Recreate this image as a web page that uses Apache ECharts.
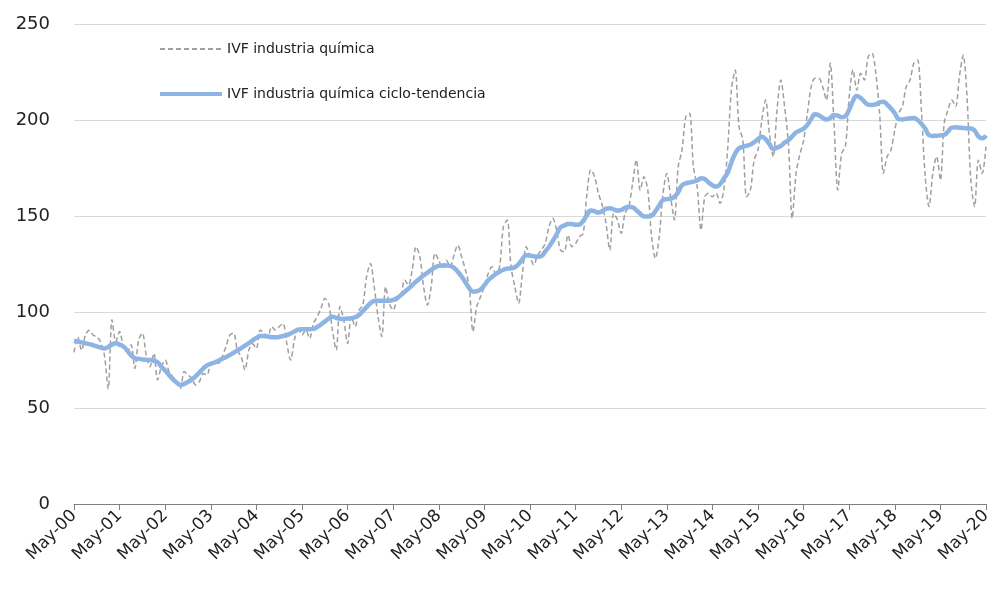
<!DOCTYPE html>
<html lang="es">
<head>
<meta charset="UTF-8">
<title>IVF industria química</title>
<script src="https://cdn.jsdelivr.net/npm/echarts@6/dist/echarts.min.js"></script>
<style>
  html, body { margin: 0; padding: 0; background: #fff; }
  #chart { width: 992px; height: 591px; }
</style>
</head>
<body>
<div id="chart"></div>
<script>
// monthly series, May-2000 .. May-2020
const monthNames = ['May', 'Jun', 'Jul', 'Aug', 'Sep', 'Oct', 'Nov', 'Dec', 'Jan', 'Feb', 'Mar', 'Apr'];
const firstYear = 2000;
const nMonths = 241;

const yTicks = [0, 50, 100, 150, 200, 250];

// IVF industria química (raw index)
const ivf = [
  79, 87, 80, 88, 90.5, 88, 87, 84.5, 77.6, 60, 96, 84.5,
  89.8, 82, 79.4, 83, 70.6, 85.4, 89, 77.6, 71.5, 78.5, 64.6, 71.5,
  75, 69, 66.3, 63.7, 60.2, 69, 67.2, 65.5, 62, 63.7, 68, 67.2,
  73.3, 74, 73.3, 76.7, 82, 88, 89, 80, 76.7, 69.8, 80, 83.5,
  81, 90.6, 89, 87.2, 92.4, 90.6, 92.4, 94, 83.6, 75, 85.4, 92.4,
  88, 90.6, 86.3, 94, 97.6, 101.9, 107, 104.5, 90.6, 80.2, 102.8, 95.8,
  83.6, 97.6, 92.4, 101, 103.6, 118.4, 125.3, 113.2, 97.6, 87.2, 113.2, 104.5,
  101, 106.2, 108, 116.7, 114, 121.9, 134, 128.9, 113.2, 103.6, 113.2, 130.6,
  127, 122.8, 127, 123.6, 129.7, 134.8, 128.8, 121.9, 113.2, 89.8, 102.8, 108,
  113.2, 120, 123.6, 120, 123.6, 144.4, 147.9, 123.6, 113.2, 104.5, 120, 134,
  128.8, 124.5, 129.7, 132.3, 135.7, 144.4, 148.8, 142.7, 132.3, 131.4, 140.1, 134,
  135.7, 139.2, 141, 161.8, 174, 170.5, 161.8, 155.7, 146.2, 132.3, 151.4, 148,
  141, 151.4, 154.9, 167, 179.2, 163.5, 170.5, 163.5, 139.2, 127.9, 139.2, 161.8,
  172.2, 160, 147.9, 175.7, 184.4, 201.8, 203.5, 175.7, 165.3, 142.7, 160, 161.8,
  160, 161.8, 156.6, 163.5, 184.4, 215.6, 226, 196.5, 189.6, 160, 163.5, 179.2,
  184.4, 200, 210.4, 193, 180.9, 205.2, 220.8, 207, 187.8, 148.8, 172, 182,
  189.3, 203.5, 217.4, 221.7, 221.7, 217.4, 210.4, 229.5, 198.3, 163.5, 182.6, 186.1,
  212.2, 226.1, 215.6, 224.3, 220.8, 232.9, 234.7, 224.3, 203.5, 172.2, 181, 184.4,
  194.8, 203.5, 207, 217.4, 220.8, 229.5, 231.2, 205.2, 170.5, 154.9, 172.2, 181,
  168.7, 198.3, 205.2, 210.4, 207, 222.6, 233.8, 212.2, 168.7, 154.9, 179.1, 172.2,
  186.1
];

// IVF industria química ciclo-tendencia
const tendencia = [
  85, 84.6, 84.2, 83.7, 83.3, 82.7, 82.1, 81.5, 81, 81.8, 83, 83.7,
  83, 82, 80, 77.5, 76, 75.6, 75.3, 75.1, 75, 74.6, 73.8, 71.5,
  69.5, 67.2, 65, 63.3, 62, 62.6, 63.6, 64.8, 66.5, 68.5, 70.5, 72.2,
  73, 73.7, 74.6, 75.6, 76.5, 77.6, 78.8, 80, 81.2, 82.5, 83.8, 85.2,
  86.5, 87.5, 87.5, 87.2, 86.9, 86.8, 87, 87.5, 88, 88.8, 89.8, 90.8,
  91, 91, 91, 91.2, 92.2, 93.5, 95, 96.5, 97.5, 97, 96.5, 96.4,
  96.6, 96.8, 97.3, 98.5, 100.5, 102.5, 104.5, 105.7, 105.9, 105.9, 105.9, 105.9,
  106.3, 107.2, 108.8, 110.5, 112.2, 114, 115.8, 117.5, 119, 120.5, 122, 123.2,
  124, 124.2, 124.2, 124, 123, 121, 118.5, 115.5, 112.5, 110.6, 110.8, 111.7,
  114, 116.5, 118.2, 119.8, 121, 122, 122.6, 122.8, 123.3, 125, 127.5, 129.6,
  129.4, 129, 128.8, 129.2, 131.5, 134, 137, 140.5, 144, 145, 145.8, 145.8,
  145.4, 145.6, 147.5, 150.5, 152.8, 152.5, 151.8, 152.5, 153.8, 154, 153.5, 152.8,
  153.2, 154.2, 154.8, 154.5, 153, 151.2, 149.8, 149.7, 150.2, 152.5, 155.5, 158.3,
  158.8, 159.1, 160, 162.5, 166, 167, 167.5, 167.9, 168.5, 169.6, 169.2, 167.5,
  166, 165.3, 166.5, 169.5, 172.5, 178, 182.5, 185.3, 186, 186.6, 187.2, 188.5,
  190, 191.3, 190, 187.5, 185, 185.6, 186.5, 188.2, 189.5, 191.5, 193.5, 194.5,
  195.5, 197.5, 200.5, 203, 202.5, 201.2, 200.3, 201, 202.6, 202.3, 201.4, 202,
  205.5, 210, 212.5, 211.5, 209.5, 208, 207.8, 208.2, 209.2, 209.5, 208, 206,
  203.5, 200.5, 200.3, 200.6, 200.9, 201, 200, 198, 195.5, 192.2, 191.7, 191.8,
  192, 192.3, 194, 196, 196.2, 196, 195.8, 195.7, 195.6, 194.5, 191.5, 190.5,
  192
];

// category labels "May-00", "Jun-00", ...
const months = [];
for (let i = 0; i < nMonths; i++) {
  const yr = firstYear + Math.floor((i + 4) / 12);
  months.push(monthNames[i % 12] + '-' + String(yr % 100).padStart(2, '0'));
}

const chart = echarts.init(document.getElementById('chart'));

chart.setOption({
  animation: false,
  textStyle: { fontFamily: 'DejaVu Sans' },
  grid: {
    left: 74, right: 6, top: 24, bottom: 87,
    containLabel: false,
    outerBoundsMode: 'none'
  },
  legend: {
    orient: 'vertical',
    left: 153,
    top: 37,
    itemWidth: 62,
    itemHeight: 12,
    itemGap: 31,
    itemStyle: { opacity: 0 },
    textStyle: { fontSize: 14, color: '#222', fontFamily: 'DejaVu Sans' },
    data: [
      { name: 'IVF industria química' },
      { name: 'IVF industria química ciclo-tendencia', lineStyle: { width: 4 } }
    ]
  },
  xAxis: {
    type: 'category',
    data: months,
    boundaryGap: false,
    axisLine: { lineStyle: { color: '#808080', width: 1 } },
    axisTick: { interval: 11, length: 6, lineStyle: { color: '#808080' } },
    axisLabel: {
      interval: 11,
      rotate: 45,
      fontSize: 17,
      color: '#222',
      margin: 9
    },
    splitLine: { show: false }
  },
  yAxis: {
    type: 'value',
    min: yTicks[0],
    max: yTicks[yTicks.length - 1],
    interval: 50,
    axisLine: { show: false },
    axisTick: { show: false },
    axisLabel: { fontSize: 18, color: '#222', margin: 24 },
    splitLine: { lineStyle: { color: '#d9d9d9', width: 1 } }
  },
  series: [
    {
      name: 'IVF industria química',
      type: 'line',
      data: ivf,
      symbol: 'none',
      smooth: 0.3,
      lineStyle: { color: '#9f9f9f', width: 1.5, type: [5, 3] },
      itemStyle: { color: '#9f9f9f' },
      z: 2
    },
    {
      name: 'IVF industria química ciclo-tendencia',
      type: 'line',
      data: tendencia,
      symbol: 'none',
      smooth: 0.5,
      lineStyle: { color: '#8db4e2', width: 4.5 },
      itemStyle: { color: '#8db4e2' },
      z: 3
    }
  ]
});
</script>
</body>
</html>
